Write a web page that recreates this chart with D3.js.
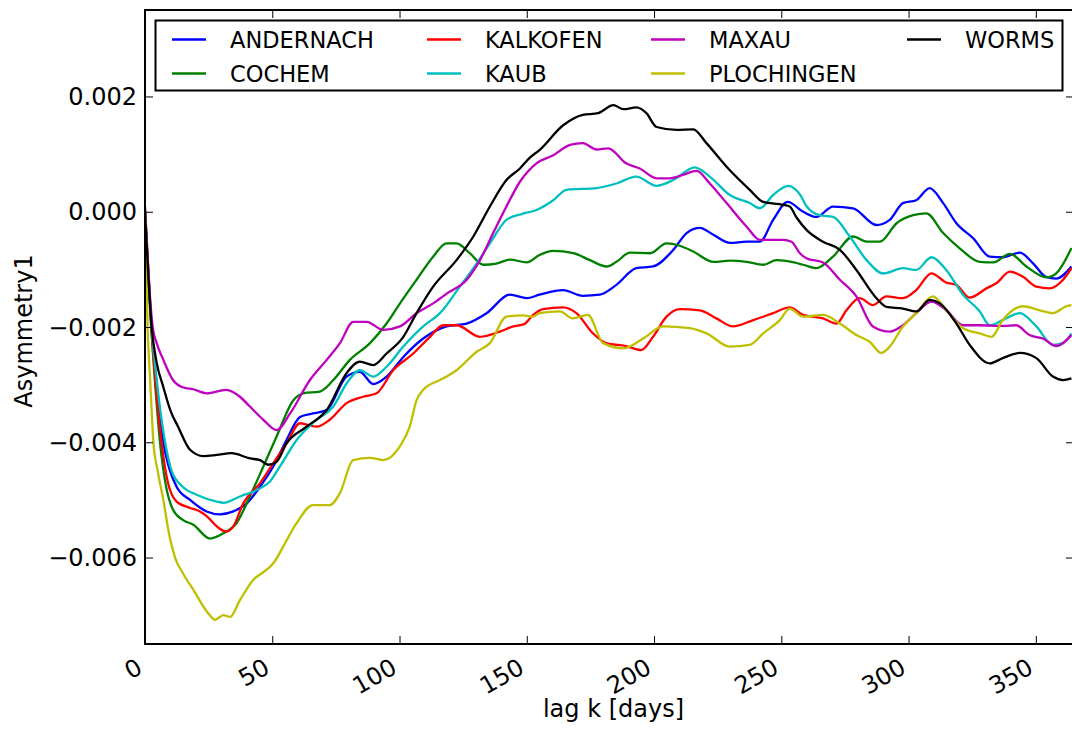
<!DOCTYPE html>
<meta charset="utf-8">
<style>
  body { margin: 0; background: #fff; }
  text { font-family: "DejaVu Sans", sans-serif; fill: #000; }
</style>
<body>

<!-- load the d3.js library -->
<script src="https://cdn.jsdelivr.net/npm/d3@7"></script>
<script>
// values: [lag k in days, Asymmetry1 in units of 1e-3]
var andernach = [[0,0],[2.6,-2.0],[4.6,-3.0],[7.2,-4.0],[9.5,-4.45],[12.4,-4.77],[17.7,-5.0],[24.2,-5.2],[29.5,-5.25],[34.7,-5.2],[40,-5.06],[45.2,-4.77],[50.4,-4.42],[55.6,-3.96],[60.9,-3.56],[66,-3.5],[71.4,-3.44],[79.2,-2.86],[84.4,-2.78],[89.7,-2.99],[94.9,-2.86],[101.5,-2.52],[109.3,-2.2],[118.5,-1.99],[126.4,-1.94],[134.2,-1.76],[143.4,-1.44],[150,-1.5],[155,-1.44],[164.3,-1.36],[172,-1.46],[178.7,-1.44],[185.2,-1.27],[193,-0.98],[199.6,-0.95],[207.6,-0.66],[212.8,-0.37],[218,-0.28],[223.3,-0.4],[229.8,-0.54],[236.4,-0.52],[241.6,-0.52],[246.8,-0.14],[252.5,0.17],[258.6,0.0],[263.8,-0.09],[270.3,0.09],[278.2,0.06],[287.4,-0.23],[292.6,-0.14],[297.8,0.15],[303,0.2],[308.3,0.41],[313.6,0.15],[318.8,-0.2],[325.4,-0.46],[331.9,-0.78],[337,-0.79],[343.7,-0.71],[349,-0.9],[354,-1.13],[358,-1.16],[364,-0.95]];
var cochem = [[0,0],[2.4,-2.0],[4,-3.0],[5.9,-4.0],[8,-4.7],[11,-5.17],[15,-5.35],[19,-5.43],[25.5,-5.67],[30.8,-5.58],[36,-5.4],[41.2,-4.94],[46.5,-4.42],[51.7,-3.9],[58.3,-3.27],[62.2,-3.15],[68.7,-3.12],[74,-2.92],[80.5,-2.57],[88.4,-2.28],[94.9,-1.94],[100.2,-1.59],[106.7,-1.18],[113.2,-0.78],[118.5,-0.55],[122.4,-0.55],[127.6,-0.72],[132.9,-0.92],[138.1,-0.9],[143.4,-0.83],[150,-0.88],[155,-0.75],[160.4,-0.68],[168.3,-0.72],[174.8,-0.84],[181.4,-0.95],[185.2,-0.87],[190.5,-0.71],[198.4,-0.72],[204.9,-0.55],[210.1,-0.59],[215.4,-0.69],[223.3,-0.87],[229.8,-0.85],[236.4,-0.87],[242.9,-0.92],[248.1,-0.84],[255,-0.88],[258.6,-0.92],[263.8,-0.98],[270.3,-0.78],[278.2,-0.43],[283.5,-0.52],[288.7,-0.52],[295.3,-0.2],[301.8,-0.06],[307,-0.03],[313.6,-0.37],[320.2,-0.64],[328,-0.87],[333.3,-0.88],[339.8,-0.73],[346.3,-0.95],[354.2,-1.14],[358,-1.07],[364,-0.63]];
var kalkofen = [[0,0.1],[2.5,-2.0],[4.2,-3.0],[6.5,-4.0],[9,-4.7],[12.4,-5.03],[17.7,-5.14],[21.6,-5.2],[24.2,-5.28],[28.2,-5.46],[32,-5.55],[34.7,-5.46],[38.6,-5.06],[45.2,-4.71],[50.4,-4.36],[55.6,-4.02],[60.9,-3.67],[67.4,-3.73],[72.6,-3.61],[79.2,-3.32],[85.7,-3.21],[91,-3.15],[97.5,-2.75],[105.4,-2.46],[112,-2.17],[117.2,-1.97],[122.4,-1.97],[131.6,-2.17],[139.4,-2.08],[144.7,-1.99],[149,-1.95],[152.5,-1.79],[156.4,-1.69],[164.3,-1.66],[169.5,-1.76],[176,-2.11],[181.2,-2.28],[189,-2.33],[195,-2.4],[199.6,-2.17],[204.9,-1.82],[210.1,-1.69],[218,-1.71],[224.5,-1.85],[231,-1.99],[239,-1.88],[246.8,-1.76],[253.3,-1.66],[258.6,-1.79],[266.4,-1.85],[271.7,-1.94],[275.6,-1.71],[280.8,-1.5],[286,-1.62],[291.3,-1.47],[297.8,-1.5],[303,-1.36],[309,-1.07],[314.8,-1.23],[318.8,-1.27],[324,-1.49],[330.6,-1.33],[334.5,-1.24],[339.8,-1.04],[345,-1.13],[350.2,-1.3],[355.4,-1.33],[360.7,-1.18],[364,-0.98]];
var kaub = [[0,0],[2.6,-2.0],[4.8,-3.0],[7.9,-4.0],[10.5,-4.5],[15,-4.78],[20.3,-4.91],[28.2,-5.03],[30.8,-5.05],[37.3,-4.94],[45.2,-4.8],[49.1,-4.68],[53,-4.42],[59.6,-3.96],[67.4,-3.61],[74,-3.38],[79.2,-2.98],[84.4,-2.75],[89.7,-2.86],[94.9,-2.69],[101.5,-2.34],[109.3,-1.99],[115.9,-1.76],[123.7,-1.3],[130.3,-0.9],[135.5,-0.55],[142,-0.14],[148,-0.04],[153.8,0.03],[160.4,0.2],[165.6,0.38],[177.4,0.41],[185.2,0.49],[193,0.61],[201,0.45],[207.6,0.55],[216,0.77],[221.9,0.61],[229.8,0.29],[237.6,0.15],[241.6,0.06],[246.8,0.29],[252.7,0.45],[257.3,0.3],[260,0.09],[265,-0.06],[270.3,-0.09],[276.9,-0.43],[283.5,-0.84],[290,-1.07],[297.8,-0.98],[303,-1.01],[309,-0.79],[314.8,-1.01],[321.4,-1.44],[328,-1.73],[331.9,-1.97],[337,-1.88],[343.7,-1.76],[350.2,-1.99],[356.7,-2.31],[360.7,-2.28],[364,-2.11]];
var maxau = [[0,0],[3,-2.0],[4.6,-2.28],[7.2,-2.57],[11,-2.92],[15,-3.05],[19,-3.08],[24.2,-3.15],[32,-3.09],[37.3,-3.21],[41.2,-3.38],[46.5,-3.61],[51.7,-3.79],[57,-3.5],[64.8,-2.92],[71.4,-2.57],[76.6,-2.28],[81.8,-1.91],[87.1,-1.91],[93.6,-2.05],[100.2,-1.99],[106.7,-1.76],[113.2,-1.59],[118.5,-1.42],[126.4,-1.18],[131.6,-0.84],[136.8,-0.37],[142,0.09],[147.3,0.52],[153.8,0.84],[160.4,0.98],[167,1.16],[172,1.19],[177.4,1.08],[182,1.1],[189,0.84],[194.4,0.75],[201,0.58],[206.2,0.58],[211.4,0.64],[216.7,0.71],[221.9,0.49],[228.5,0.15],[236.4,-0.26],[241.6,-0.49],[250.7,-0.49],[254,-0.52],[257.3,-0.72],[260,-0.81],[266.4,-0.88],[273,-1.18],[279.5,-1.47],[286,-1.99],[292.6,-2.08],[297.8,-1.97],[303,-1.76],[309,-1.56],[314.8,-1.71],[321.4,-1.97],[328,-1.97],[337,-1.98],[342.3,-1.97],[347.5,-2.14],[352.8,-2.2],[358,-2.33],[364,-2.14]];
var plochingen = [[0,0],[1,-2.0],[2,-2.9],[3.3,-4.0],[5,-4.5],[7.2,-5.0],[9.5,-5.6],[11.8,-6.0],[15,-6.28],[19,-6.56],[24.9,-6.97],[27.5,-7.08],[30.8,-7.0],[33.4,-7.03],[37.3,-6.74],[42.5,-6.39],[47.8,-6.21],[50.4,-6.1],[54.3,-5.81],[59.6,-5.4],[66,-5.09],[72.6,-5.09],[76.6,-4.88],[81.8,-4.31],[88.4,-4.27],[93.6,-4.31],[100,-4.08],[104,-3.73],[106.7,-3.27],[109.3,-3.09],[115.9,-2.92],[118.5,-2.86],[122.4,-2.75],[130.3,-2.43],[135.5,-2.28],[142,-1.82],[148.6,-1.8],[152.5,-1.82],[155,-1.76],[163,-1.73],[168,-1.85],[174,-1.79],[180,-2.28],[188,-2.37],[195.7,-2.2],[203.6,-1.99],[214,-2.02],[220.6,-2.11],[229.8,-2.34],[237.6,-2.31],[242.9,-2.11],[249.4,-1.88],[253.3,-1.68],[258.6,-1.82],[266.4,-1.79],[273,-1.94],[279.5,-2.14],[284.8,-2.26],[289.3,-2.45],[292.6,-2.34],[297.8,-1.99],[303,-1.76],[309.6,-1.47],[314.8,-1.71],[321.4,-2.02],[328,-2.11],[332.6,-2.17],[337,-1.88],[345,-1.64],[351.5,-1.71],[356.7,-1.76],[362,-1.64],[364,-1.62]];
var worms = [[0,0],[2.6,-2.0],[4.5,-2.6],[7.2,-3.04],[10,-3.45],[13,-3.73],[17.7,-4.13],[22.9,-4.24],[28.2,-4.22],[34,-4.19],[41.2,-4.28],[45.2,-4.31],[48.4,-4.39],[51.7,-4.34],[55.6,-4.02],[63.5,-3.73],[71.4,-3.44],[79.2,-2.8],[84.4,-2.6],[89.7,-2.66],[94.9,-2.46],[101.5,-2.17],[106.7,-1.76],[113.2,-1.3],[122.4,-0.84],[129,-0.43],[135.5,0.09],[142,0.55],[147.3,0.75],[151,0.93],[155,1.07],[164.3,1.5],[172,1.68],[178,1.71],[184,1.85],[188,1.78],[193,1.81],[197,1.71],[201,1.47],[208.8,1.42],[215.4,1.43],[220.6,1.19],[228.5,0.78],[237.6,0.38],[242.9,0.17],[250.7,0.12],[253.3,0.09],[256,-0.1],[260,-0.32],[266.4,-0.52],[273,-0.66],[279.5,-1.01],[287.4,-1.5],[291.3,-1.65],[297.8,-1.68],[303,-1.73],[308.3,-1.53],[312.3,-1.59],[318.8,-1.94],[324,-2.31],[331.9,-2.63],[337,-2.54],[343.7,-2.45],[350.2,-2.54],[356.7,-2.86],[360.7,-2.92],[364,-2.89]];

var stations = ["ANDERNACH", "COCHEM", "KALKOFEN", "KAUB", "MAXAU", "PLOCHINGEN", "WORMS"];
var seriesValues = [andernach, cochem, kalkofen, kaub, maxau, plochingen, worms];
var colors = ["#0000ff", "#008000", "#ff0000", "#00bfbf", "#bf00bf", "#bfbf00", "#000000"];

var xTicks = [0, 50, 100, 150, 200, 250, 300, 350];
var yTicks = [-0.006, -0.004, -0.002, 0.000, 0.002];
var unit = 1e-3;

// frame of the axes (right spine sits just outside the window)
var margin = {top: 10, left: 145},
    width = 929,
    height = 634;

var svg = d3.select("body").append("svg")
    .attr("width", 1072)
    .attr("height", 729);

var g = svg.append("g")
    .attr("transform", "translate(" + margin.left + "," + margin.top + ")");

var x = d3.scaleLinear().domain([0, 365]).range([0, width]);
var y = d3.scaleLinear().domain([-0.0075, 0.0035]).range([height, 0]);

g.append("clipPath").attr("id", "clip")
  .append("rect").attr("width", width).attr("height", height);

// lines
var line = d3.line()
    .x(function(d) { return x(d[0]); })
    .y(function(d) { return y(d[1] * unit); })
    .curve(d3.curveMonotoneX);

g.append("g").attr("clip-path", "url(#clip)")
  .selectAll("path")
  .data(seriesValues)
  .enter().append("path")
    .attr("d", line)
    .attr("fill", "none")
    .attr("stroke", function(d, i) { return colors[i]; })
    .attr("stroke-width", 2.3)
    .attr("stroke-linejoin", "round");

// inward ticks on all four sides, labels only bottom and left
var tickLen = 8;
var axBottom = g.append("g").attr("transform", "translate(0," + height + ")")
    .call(d3.axisBottom(x).tickValues(xTicks).tickSizeInner(-tickLen).tickSizeOuter(0).tickFormat(""));
var axTop = g.append("g")
    .call(d3.axisTop(x).tickValues(xTicks).tickSizeInner(-tickLen).tickSizeOuter(0).tickFormat(""));
var axLeft = g.append("g")
    .call(d3.axisLeft(y).tickValues(yTicks).tickSizeInner(-tickLen).tickSizeOuter(0).tickFormat(""));
var axRight = g.append("g").attr("transform", "translate(" + width + ",0)")
    .call(d3.axisRight(y).tickValues(yTicks).tickSizeInner(-tickLen).tickSizeOuter(0).tickFormat(""));
[axBottom, axTop, axLeft, axRight].forEach(function(a) {
  a.select(".domain").remove();
  a.selectAll("line").attr("stroke", "#000").attr("stroke-width", 1);
});

// x tick labels, rotated like autofmt_xdate
g.append("g").selectAll("text")
  .data(xTicks)
  .enter().append("text")
    .attr("transform", function(d) { return "translate(" + (x(d) - 1) + "," + (height + 28) + ") rotate(-30)"; })
    .attr("text-anchor", "end")
    .style("font-size", "24px")
    .text(function(d) { return d; });

// y tick labels
var fmt = d3.format(".3f");
g.append("g").selectAll("text")
  .data(yTicks)
  .enter().append("text")
    .attr("x", -8)
    .attr("y", function(d) { return y(d); })
    .attr("dy", "0.36em")
    .attr("text-anchor", "end")
    .style("font-size", "24px")
    .text(function(d) { return fmt(d); });

// frame
g.append("rect")
    .attr("width", width).attr("height", height)
    .attr("fill", "none").attr("stroke", "#000").attr("stroke-width", 2);

// axis titles
svg.append("text")
    .attr("x", margin.left + width / 2 + 4)
    .attr("y", 717)
    .attr("text-anchor", "middle")
    .style("font-size", "24px")
    .text("lag k [days]");

svg.append("text")
    .attr("transform", "translate(32,331) rotate(-90)")
    .attr("text-anchor", "middle")
    .style("font-size", "24px")
    .text("Asymmetry1");

// legend, 4 columns filled column by column
var colX = [172, 427, 651, 907], rowY = [39.5, 73.5];
var legend = svg.append("g");
legend.append("rect")
    .attr("x", 155.5).attr("y", 20.5).attr("width", 907).attr("height", 70)
    .attr("fill", "#fff").attr("stroke", "#000").attr("stroke-width", 2);

var items = legend.selectAll(".item")
  .data(stations)
  .enter().append("g")
    .attr("transform", function(d, i) { return "translate(" + colX[Math.floor(i / 2)] + "," + rowY[i % 2] + ")"; });
items.append("line")
    .attr("x1", 0).attr("x2", 34)
    .attr("stroke", function(d, i) { return colors[i]; })
    .attr("stroke-width", 2.3);
items.append("text")
    .attr("x", 58)
    .attr("dy", "0.36em")
    .style("font-size", "22.5px")
    .text(function(d) { return d; });
</script>
</body>
